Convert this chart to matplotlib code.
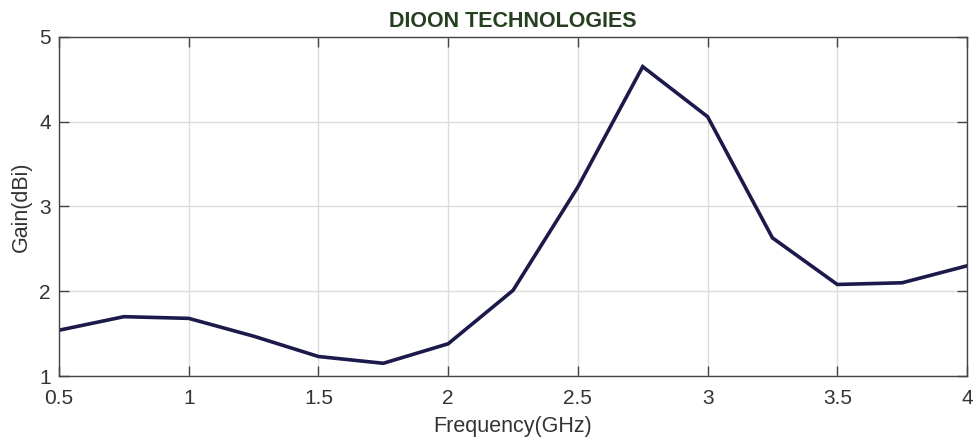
import matplotlib
matplotlib.use("Agg")
import matplotlib.pyplot as plt

plt.rcParams['font.family'] = ['Liberation Sans', 'DejaVu Sans']

freq = [0.5, 0.75, 1.0, 1.25, 1.5, 1.75, 2.0, 2.25, 2.5, 2.75, 3.0, 3.25, 3.5, 3.75, 4.0]
gain = [1.54, 1.70, 1.68, 1.47, 1.23, 1.15, 1.38, 2.01, 3.23, 4.65, 4.06, 2.63, 2.08, 2.10, 2.30]
xticks = [0.5, 1, 1.5, 2, 2.5, 3, 3.5, 4]
xtick_labels = ['0.5', '1', '1.5', '2', '2.5', '3', '3.5', '4']
yticks = [1, 2, 3, 4, 5]

fig = plt.figure(figsize=(9.74, 4.4), dpi=100)
ax = fig.add_axes([59/974, 1 - 376/440, (967-59)/974, (376-37)/440])
ax.plot(freq, gain, color='#1c1a4a', linewidth=2.6, solid_joinstyle='miter')
ax.set_xlim(0.5, 4)
ax.set_ylim(1, 5)
ax.set_xticks(xticks)
ax.set_xticklabels(xtick_labels)
ax.set_yticks(yticks)
ax.grid(True, color='#dcdcdc', linewidth=1.0)
ax.set_axisbelow(True)
for s in ax.spines.values():
    s.set_color('#444444')
    s.set_linewidth(1.0)
ax.tick_params(direction='in', length=7, width=1.0, color='#444444',
               labelsize=15, labelcolor='#333333', top=True, right=True)
ax.tick_params(axis='x', pad=9)
ax.tick_params(axis='y', pad=6)
ax.set_xlabel('Frequency(GHz)', fontsize=15.5, color='#333333', labelpad=6)
ax.set_ylabel('Gain(dBi)', fontsize=15.5, color='#333333', labelpad=5)
ax.set_title('DIOON TECHNOLOGIES', fontsize=15.5, fontweight='bold', color='#24401f', pad=7)
fig.savefig('out.png', dpi=100)
